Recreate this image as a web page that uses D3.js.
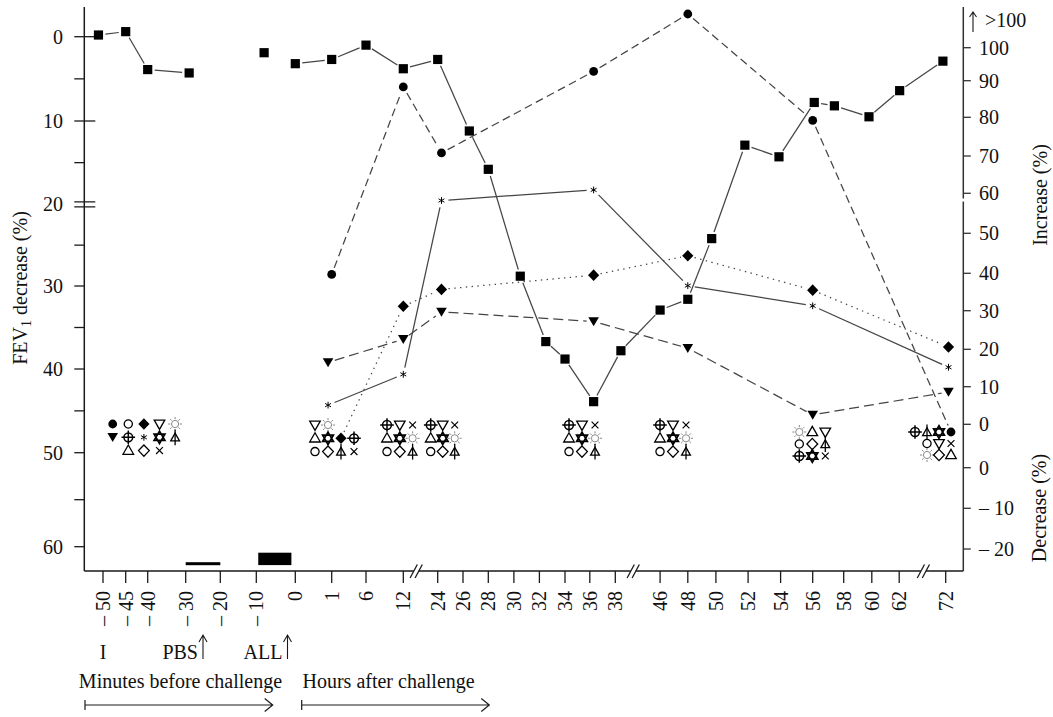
<!DOCTYPE html>
<html><head><meta charset="utf-8">
<script src="https://cdn.jsdelivr.net/npm/d3@7"></script>
<style>
body{margin:0;background:#fff}
svg{display:block}
text{font-family:"Liberation Serif","Times New Roman",serif;fill:#111;font-size:20px}
</style>
</head><body>
<svg id="c" width="1053" height="717"></svg>
<script>
// ================= DATA =================
const minuteTicks = [-50, -45, -40, -30, -20, -10, 0];
const hourTicks = [1, 6, 12, 24, 26, 28, 30, 32, 34, 36, 38, 46, 48, 50, 52, 54, 56, 58, 60, 62, 72];
const axisBreaksHours = [16.5, 41.2, 67.2];
const leftMajorTicks = [0, 10, 20, 30, 40, 50, 60];
const leftMinorTicks = [5, 15, 25, 35, 45, 55];
const rightIncTicks = [0, 10, 20, 30, 40, 50, 60, 70, 80, 90, 100];
const rightDecTicks = [0, -10, -20];

// FEV1 decrease (%) – black squares, left axis
const fevPreMinutes = [[-51, -0.2], [-45, -0.6], [-40, 3.9], [-29, 4.3]];
const fevIsolatedMinutes = [[-8, 1.9]];
const fevPostHours = [[0, 3.2], [1, 2.7], [6, 1.0], [12, 3.8], [24, 2.7], [26.5, 11.2], [28, 15.8],
  [30.5, 28.8], [32.5, 36.7], [34, 38.8], [36.3, 43.9], [39, 37.8], [46, 32.9], [48, 31.6],
  [49.7, 24.2], [51.8, 12.9], [53.9, 14.3], [56.1, 7.8], [57.4, 8.2], [59.8, 9.5], [62.1, 6.4], [71.4, 2.9]];

// Increase (%) – right axis; NONE = listed among "no change" symbols, OVER = ">100"
const OVER = ">100", NONE = "none";
const seriesCircle   = [[1, 39.7], [12, 88.3], [24.3, 70.8], [36.3, 92.8], [48, OVER], [56, 79.2], [72, NONE]];
const seriesDiamond  = [[1, NONE], [12, 31.2], [24.3, 35.7], [36.3, 39.5], [48, 44.4], [56, 35.5], [72.6, 20.6]];
const seriesTriangle = [[0.9, 16.5], [12, 22.6], [24.3, 29.7], [36.3, 27.2], [48, 20.3], [56, 2.5], [72.6, 8.6]];
const seriesAsterisk = [[0.9, 5.1], [12, 13.3], [24.3, 58.2], [36.3, 60.9], [48, 36.7], [56, 31.3], [72.6, 15.2]];

// subjects showing no change, per time point (rows of symbols)
const groupBaseline = [["circleF", "circle", "diamondF", "triDown", "sun"],
                       ["triDownF", "crossCircle", "asterisk", "star", "arrowTri"],
                       [null, "triUp", "diamond", "x"]];
const group1h  = [["triDown", "sun"], ["triUp", "star", "diamondF", "crossCircle"], ["circle", "diamond", "arrowTri", "x"]];
const group12h = [["crossCircle", "triDown", "x"], ["triUp", "star", "sun"], ["circle", "diamond", "arrowTri"]];
const group24h = [["crossCircle", "triDown", "x"], ["triUp", "star", "sun"], ["circle", "diamond", "arrowTri"]];
const group36h = [["crossCircle", "triDown", "x"], ["triUp", "star", "sun"], ["circle", "diamond", "arrowTri"]];
const group48h = [["crossCircle", "triDown", "x"], ["triUp", "star", "sun"], ["circle", "diamond", "arrowTri"]];
const group56h = [["sun", "triUp", "triDown"], ["circle", "diamond", "arrowTri"], ["crossCircle", "star", "x"]];
const group72h = [["crossCircle", "arrowTri", "star", "circleF"], [null, "circle", "triDown", "x"], [null, "sun", "diamond", "triUp"]];

// inhalation periods (minutes before challenge)
const pbsInterval = [-30, -20];
const allInterval = [-9.5, -1];
const markI = -50, markPBS = -25, markALL = -2;

// ================= LAYOUT =================
const tickPx = [103, 125.7, 147.7, 185.7, 220.3, 256.3, 295.3, 331.7, 366, 403.3, 437.7, 463, 488.3, 513.9,
  539.4, 565, 589.8, 615.3, 660.1, 687.8, 715.9, 748.1, 780.6, 812.7, 843.7, 871.8, 899.2, 945.7];
const X0 = 84.3, X1 = 963.3, Y0 = 7, YB = 571;

const tickTimes = [...minuteTicks.map(m => m / 60), ...hourTicks];
const x = d3.scaleLinear().domain(tickTimes).range(tickPx);
const xm = m => x(m / 60);
const yL = d3.scaleLinear().domain(leftMajorTicks).range([36.7, 121, 204.3, 286, 369, 452.7, 546.7]);
const yR = d3.scaleLinear().domain(rightIncTicks)
  .range([424.3, 386.7, 349.3, 310.7, 273.3, 233.3, 193.3, 156, 117.3, 80.7, 47.7]);
const yD = d3.scaleLinear().domain([0, -10, -20]).range([467.7, 508.3, 549]);
const yOver = yR(100) - 27.7;

const groups = [
  {t: -40 / 60, rows: groupBaseline, dx: -35, step: 15.6, dy: -0.3, rowStep: 13.3},
  {t: 1,  rows: group1h,  dx: -16.7, step: 13,   dy: 0.7, rowStep: 13.3},
  {t: 12, rows: group12h, dx: -16.3, step: 12.8, dy: 0.7, rowStep: 13.3},
  {t: 24, rows: group24h, dx: -7,    step: 12,   dy: 0.7, rowStep: 13.3},
  {t: 36, rows: group36h, dx: -20.8, step: 13,   dy: 0.7, rowStep: 13.3},
  {t: 48, rows: group48h, dx: -27.8, step: 13,   dy: 0.7, rowStep: 13.3},
  {t: 56, rows: group56h, dx: -13.4, step: 13,   dy: 7.7, rowStep: 12},
  {t: 72, rows: group72h, dx: -30.7, step: 12,   dy: 7.7, rowStep: 11.5}
];

const INK = "#000", LINE = "#454545", AXIS = "#1a1a1a", SUN = "#8a8a8a";
const svg = d3.select("#c");
const NEG = "\u2013 ";

// ================= SYMBOLS =================
function sym(g, key, cx, cy) {
  const s = g.append("g").attr("transform", `translate(${cx},${cy})`);
  const st = (p, w) => s.append("path").attr("d", p).attr("fill", "none").attr("stroke", INK).attr("stroke-width", w || 1.3);
  const fl = p => s.append("path").attr("d", p).attr("fill", INK);
  switch (key) {
    case "square": s.append("rect").attr("x", -4.6).attr("y", -4.6).attr("width", 9.2).attr("height", 9.2).attr("fill", INK); break;
    case "circleF": s.append("circle").attr("r", 4.4).attr("fill", INK); break;
    case "diamondF": fl("M0,-5.8L5.6,0L0,5.8L-5.6,0Z"); break;
    case "triDownF": fl("M-5.3,-4.2L5.3,-4.2L0,4.8Z"); break;
    case "asterisk": st("M0,-3.4V3.4M-2.95,-1.7L2.95,1.7M-2.95,1.7L2.95,-1.7", 1.0); break;
    case "circle": s.append("circle").attr("r", 4.1).attr("fill", "none").attr("stroke", INK).attr("stroke-width", 1.3); break;
    case "crossCircle":
      s.append("circle").attr("r", 4.4).attr("fill", "none").attr("stroke", INK).attr("stroke-width", 1.5);
      st("M-6.8,0H6.8M0,-6.8V6.8", 1.5); break;
    case "triUp": st("M0,-5.6L5.3,3.7L-5.3,3.7Z"); break;
    case "triDown": st("M-5.3,-3.9L5.3,-3.9L0,5.4Z"); break;
    case "diamond": st("M0,-5.6L5.4,0L0,5.6L-5.4,0Z"); break;
    case "star": st("M0,-6.2L5.4,3.1L-5.4,3.1ZM0,6.2L5.4,-3.1L-5.4,-3.1Z", 1.7); break;
    case "x": st("M-3.4,-3.4L3.4,3.4M-3.4,3.4L3.4,-3.4", 1.2); break;
    case "sun": {
      s.append("circle").attr("r", 3.6).attr("fill", "none").attr("stroke", SUN).attr("stroke-width", 1);
      let p = "";
      for (let i = 0; i < 8; i++) {
        const a = i * Math.PI / 4;
        p += `M${(4.8 * Math.cos(a)).toFixed(2)},${(4.8 * Math.sin(a)).toFixed(2)}L${(7 * Math.cos(a)).toFixed(2)},${(7 * Math.sin(a)).toFixed(2)}`;
      }
      s.append("path").attr("d", p).attr("stroke", SUN).attr("stroke-width", 1);
      break;
    }
    case "arrowTri": st("M0,-4.2L4.4,3.6L-4.4,3.6Z", 1.3); st("M0,-7.5V8", 1.3); break;
  }
}

// ================= AXES =================
const ax = svg.append("g").attr("stroke", AXIS).attr("fill", "none");
// left axis
ax.append("path").attr("d", `M${X0},${Y0}V${YB}`).attr("stroke-width", 1.5);
leftMajorTicks.forEach(v => {
  const y = yL(v);
  if (v === 20) {
    ax.append("path").attr("d", `M${X0 - 10},${y - 2.5}H${X0 + 11}M${X0 - 10},${y + 2.5}H${X0 + 11}`).attr("stroke-width", 1.3);
  } else if (v < 20) {
    ax.append("path").attr("d", `M${X0 - 10},${y}H${X0 + 11}`).attr("stroke-width", 1.3);
  } else {
    ax.append("path").attr("d", `M${X0 - 10},${y}H${X0}`).attr("stroke-width", 1.3);
  }
  svg.append("text").attr("x", 63).attr("y", y).attr("dy", "0.35em").attr("text-anchor", "end").text(v);
});
leftMinorTicks.forEach(v => ax.append("path").attr("d", `M${X0 - 10},${yL(v)}H${X0}`).attr("stroke-width", 1.3));

// right axis (with break gap)
const rb = yR(58.3);
ax.append("path").attr("d", `M${X1},${Y0}V${rb - 1.5}M${X1},${rb + 1.5}V${YB}`).attr("stroke-width", 1.5).attr("stroke", "#333");
rightIncTicks.forEach(v => {
  ax.append("path").attr("d", `M${X1},${yR(v)}H${X1 + 7.5}`).attr("stroke-width", 1.3).attr("stroke", "#333");
  svg.append("text").attr("x", 979).attr("y", yR(v)).attr("dy", "0.35em").text(v);
});
rightDecTicks.forEach(v => {
  ax.append("path").attr("d", `M${X1},${yD(v)}H${X1 + 7.5}`).attr("stroke-width", 1.3).attr("stroke", "#333");
  svg.append("text").attr("x", 979).attr("y", yD(v)).attr("dy", "0.35em").text(v === 0 ? "0" : NEG + Math.abs(v));
});
// ">100"
ax.append("path").attr("d", `M973,${yOver + 12}V${yOver - 8}M969.5,${yOver - 3}L973,${yOver - 8}L976.5,${yOver - 3}`).attr("stroke-width", 1.1);
svg.append("text").attr("x", 985).attr("y", yOver).attr("dy", "0.35em").text(">100");

// bottom axis with breaks
const bx = axisBreaksHours.map(b => x(b));
let segs = [], start = X0;
bx.forEach(b => { segs.push(`M${start},${YB}H${b - 2.5}`); start = b + 2.5; });
segs.push(`M${start},${YB}H${X1}`);
ax.append("path").attr("d", segs.join("")).attr("stroke-width", 1.5);
bx.forEach(b => {
  [-2.5, 2.5].forEach(o => ax.append("path").attr("d", `M${b + o - 3.6},${YB + 7}L${b + o + 3.6},${YB - 6.5}`).attr("stroke-width", 1.3));
});
const tickLabels = [...minuteTicks.map(m => m === 0 ? "0" : NEG + Math.abs(m)), ...hourTicks.map(String)];
tickTimes.forEach((t, i) => {
  const xx = x(t);
  ax.append("path").attr("d", `M${xx},${YB}V${YB + 12}`).attr("stroke-width", 1.3);
  svg.append("text").attr("transform", `translate(${xx},591) rotate(-90)`).attr("dy", "0.35em")
    .attr("text-anchor", "end").text(tickLabels[i]);
});

// axis titles
const lt = svg.append("text").attr("transform", "translate(27,288) rotate(-90)").attr("text-anchor", "middle");
lt.append("tspan").text("FEV");
lt.append("tspan").attr("font-size", "14px").attr("dy", 4).text("1");
lt.append("tspan").attr("dy", -4).text(" decrease (%)");
svg.append("text").attr("transform", "translate(1047,195) rotate(-90)").attr("text-anchor", "middle").text("Increase (%)");
svg.append("text").attr("transform", "translate(1046,508) rotate(-90)").attr("text-anchor", "middle").text("Decrease (%)");

// inhalation bars
svg.append("rect").attr("x", xm(pbsInterval[0])).attr("width", xm(pbsInterval[1]) - xm(pbsInterval[0]))
  .attr("y", 562.2).attr("height", 3).attr("fill", INK);
svg.append("rect").attr("x", xm(allInterval[0])).attr("width", xm(allInterval[1]) - xm(allInterval[0]))
  .attr("y", 552.7).attr("height", 12.4).attr("fill", INK);

// annotations under the axis
svg.append("text").attr("x", xm(markI)).attr("y", 659).attr("text-anchor", "middle").text("I");
svg.append("text").attr("x", xm(markPBS) - 5).attr("y", 659).attr("text-anchor", "end").text("PBS");
svg.append("text").attr("x", xm(markALL) - 5).attr("y", 659).attr("text-anchor", "end").text("ALL");
[xm(markPBS), xm(markALL)].forEach(a => {
  ax.append("path").attr("d", `M${a},659V635M${a - 4},642L${a},635L${a + 4},642`).attr("stroke-width", 1.1);
});
svg.append("text").attr("x", 180.5).attr("y", 688).attr("text-anchor", "middle").text("Minutes before challenge");
svg.append("text").attr("x", 302.5).attr("y", 688).text("Hours after challenge");
[[85, 272.7], [301.7, 489.3]].forEach(([a, b]) => {
  ax.append("path").attr("d", `M${a},700V710M${a},705H${b}M${b - 8},698.5L${b},705L${b - 8},711.5`).attr("stroke-width", 1.2);
});

// ================= DATA MARKS =================
const lines = svg.append("g");
const marks = svg.append("g");
const GAP = 7;
function drawPolyline(pts, dash) {
  for (let i = 0; i < pts.length - 1; i++) {
    const [ax1, ay1] = pts[i], [bx1, by1] = pts[i + 1];
    const d = Math.hypot(bx1 - ax1, by1 - ay1);
    if (d <= 2 * GAP) continue;
    const ux = (bx1 - ax1) / d, uy = (by1 - ay1) / d;
    const p = lines.append("path")
      .attr("d", `M${ax1 + ux * GAP},${ay1 + uy * GAP}L${bx1 - ux * GAP},${by1 - uy * GAP}`)
      .attr("fill", "none").attr("stroke", LINE).attr("stroke-width", 1.25);
    if (dash) p.attr("stroke-dasharray", dash);
  }
}

// symbol groups
const groupPos = {};
groups.forEach(gr => {
  const gx = x(gr.t) + gr.dx, gy = yR(0) + gr.dy;
  gr.rows.forEach((row, r) => row.forEach((k, c) => {
    if (!k) return;
    const px = gx + c * gr.step, py = gy + r * gr.rowStep;
    groupPos[gr.t + ":" + k] = [px, py];
    sym(marks, k, px, py);
  }));
});

// FEV1 squares
const fevPre = fevPreMinutes.map(([m, v]) => [xm(m), yL(v)]);
const fevIso = fevIsolatedMinutes.map(([m, v]) => [xm(m), yL(v)]);
const fevPost = fevPostHours.map(([h, v]) => [x(h), yL(v)]);
[fevPre, fevIso, fevPost].forEach(pts => { drawPolyline(pts); pts.forEach(p => sym(marks, "square", p[0], p[1])); });

// increase series
function seriesPts(data, key) {
  return data.map(([t, v]) => {
    if (v === NONE) return {p: groupPos[t + ":" + key], inGroup: true};
    if (v === OVER) return {p: [x(t), yOver - 6]};
    return {p: [x(t), yR(v)]};
  });
}
[[seriesCircle, "circleF", "8,4.5"], [seriesDiamond, "diamondF", "1.4,4.4"],
 [seriesTriangle, "triDownF", "10,5"], [seriesAsterisk, "asterisk", null]].forEach(([data, key, dash]) => {
  const pts = seriesPts(data, key);
  drawPolyline(pts.map(d => d.p), dash);
  pts.forEach(d => { if (!d.inGroup) sym(marks, key, d.p[0], d.p[1]); });
});
</script>
</body></html>
